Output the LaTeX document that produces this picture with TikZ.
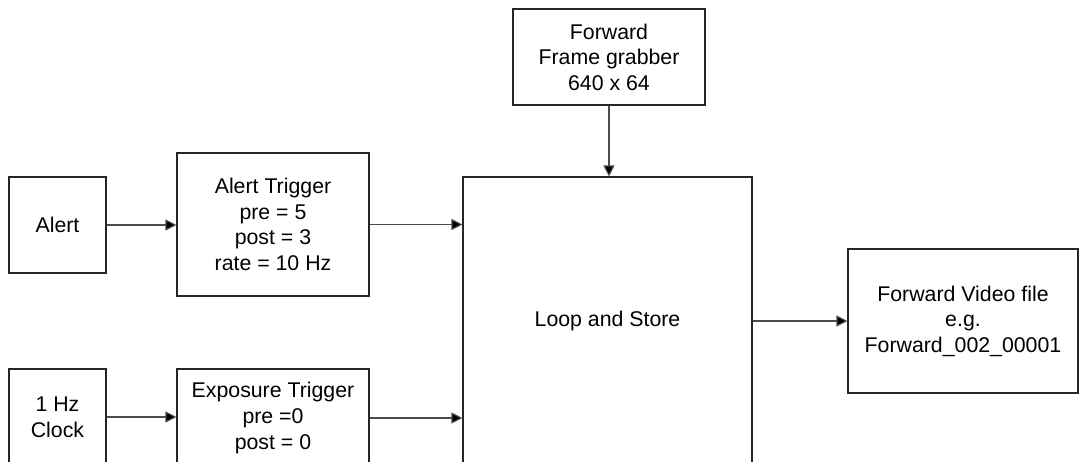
\documentclass[tikz,border=0pt]{standalone}
\usepackage{fontspec}
\setmainfont{Liberation Sans}
\usetikzlibrary{arrows.meta}
\tikzset{
  blk/.style={draw=black!85, line width=1.1pt, rectangle, inner sep=0pt, align=center,
    font=\fontsize{21.3}{25.6}\selectfont},
  conn/.style={draw=black!70, line width=1.1pt, -{Triangle[length=11pt,width=11pt,fill=black]}},
}
\begin{document}
\begin{tikzpicture}[x=1pt,y=-1pt]
\useasboundingbox (0,0) rectangle (1079,461);
\clip (0,0) rectangle (1079,461);
\fill[white] (0,0) rectangle (1079,461);
\node[blk, minimum width=97pt, minimum height=96pt] (alert) at (57.5,225) {Alert};
\node[blk, minimum width=192pt, minimum height=143pt] (atrig) at (273,224.5) {Alert Trigger\\pre = 5\\post = 3\\rate = 10 Hz};
\node[blk, minimum width=97pt, minimum height=96pt] (clock) at (57.5,417) {1 Hz\\Clock};
\node[blk, minimum width=192pt, minimum height=98pt] (etrig) at (273,418) {Exposure Trigger\\pre =0\\post = 0};
\node[blk, minimum width=192pt, minimum height=96pt] (fg) at (609,57) {Forward\\Frame grabber\\640 x 64};
\node[blk, minimum width=289pt, minimum height=288pt] (loop) at (607.5,321) {Loop and Store};
\node[blk, minimum width=230pt, minimum height=144pt] (video) at (963,321) {Forward Video file\\e.g.\\Forward\_002\_00001};
\draw[conn] (alert.east) -- (alert.east -| atrig.west);
\draw[conn] (atrig.east) -- (atrig.east -| loop.west);
\draw[conn] (clock.east) -- (clock.east -| etrig.west);
\draw[conn] (etrig.east) -- (etrig.east -| loop.west);
\draw[conn] (fg.south) -- (fg.south |- loop.north);
\draw[conn] (loop.east) -- (loop.east -| video.west);
\end{tikzpicture}
\end{document}
